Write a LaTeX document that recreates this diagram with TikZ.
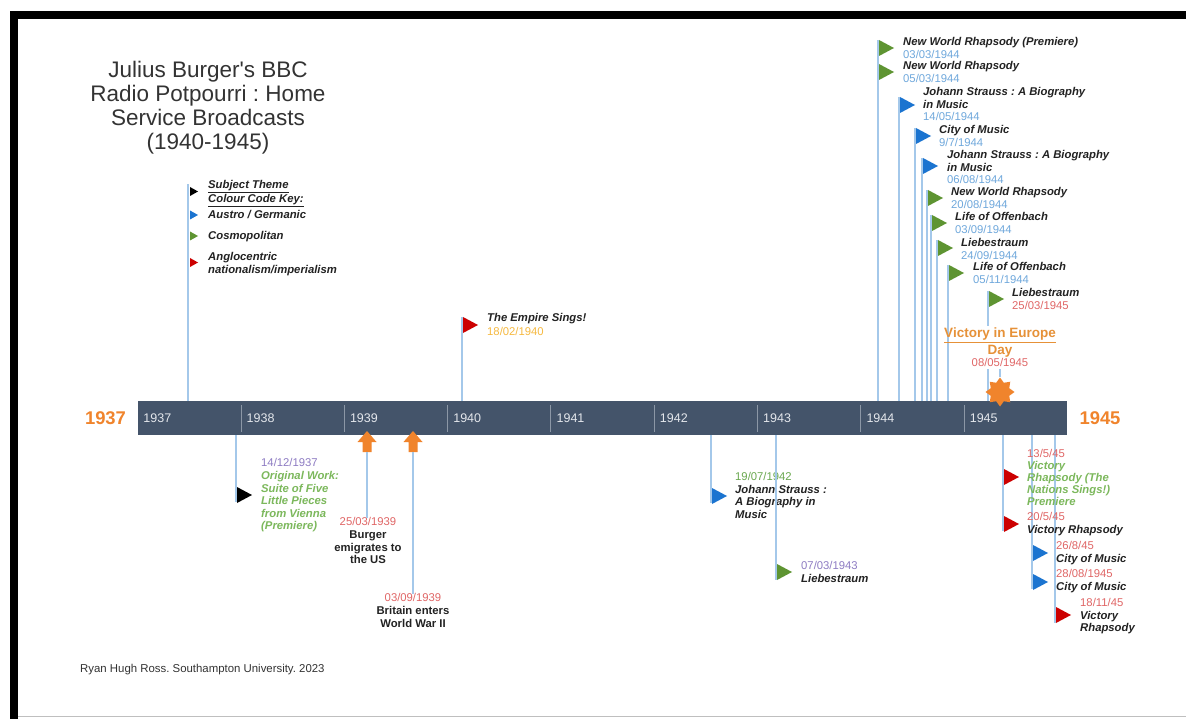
\documentclass[tikz,border=0pt]{standalone}
\usepackage{fontspec}
\setmainfont{Liberation Sans}
\usetikzlibrary{shapes.geometric}
\definecolor{lblue}{HTML}{A4C8EA}
\definecolor{barc}{HTML}{44546A}
\definecolor{divc}{HTML}{8C97A6}
\definecolor{yrc}{HTML}{E4E7EC}
\definecolor{fgreen}{HTML}{5E9432}
\definecolor{fblue}{HTML}{1B74D0}
\definecolor{fred}{HTML}{CC0000}
\definecolor{dblue}{HTML}{6FA8DC}
\definecolor{dred}{HTML}{E06666}
\definecolor{dpurple}{HTML}{8E7CC3}
\definecolor{tgreen}{HTML}{6AA84F}
\definecolor{lgreen}{HTML}{7CB85C}
\definecolor{gold}{HTML}{F6B940}
\definecolor{orng}{HTML}{F0842C}
\definecolor{vecol}{HTML}{E69138}
\definecolor{txt}{HTML}{222222}
\definecolor{titlec}{HTML}{333333}
\frenchspacing
\newcommand\bi[1]{\textbf{\textit{#1}}}
\newcommand\lf{\fontsize{11.3}{12.2}\selectfont}
\newcommand\sapos{\XeTeXglyph\XeTeXcharglyph"0027\relax}
\newcommand\flagtri[3]{\fill[#1] (#2,#3) -- ++(15,8) -- ++(-15,8) -- cycle;}
\newcommand\keytri[3]{\fill[#1] (#2,#3) -- ++(8,4.5) -- ++(-8,4.5) -- cycle;}
\newcommand\uparr[1]{\fill[orng] (#1,431) -- (#1+9.5,442) -- (#1+4.5,442) -- (#1+4.5,452) -- (#1-4.5,452) -- (#1-4.5,442) -- (#1-9.5,442) -- cycle;}
\begin{document}
\begin{tikzpicture}[x=1pt,y=-1pt,
  vline/.style={draw=lblue, line width=1.8pt},
  lbl/.style={anchor=north west, inner sep=0pt, align=left, font=\lf, text=txt},
  clbl/.style={anchor=north, inner sep=0pt, align=center, font=\lf, text=txt}]
\useasboundingbox (0,0) rectangle (1186,719);
\fill[white] (0,0) rectangle (1186,719);
\fill[black] (10,11) rectangle (1186,19);
\fill[black] (10,11) rectangle (18,719);
\draw[gray!50, line width=0.8pt] (18,716.5) -- (1186,716.5);

% title
\node[anchor=north, align=center, inner sep=0pt, font=\fontsize{22.5}{24}\selectfont, text=titlec] (title) at (208,61)
  {Julius Burger\sapos s BBC\\Radio Potpourri : Home\\Service Broadcasts\\(1940-1945)};

% bar
\node[fill=barc, inner sep=0pt, minimum width=929pt, minimum height=34pt, anchor=north west] (bar) at (137.7,401) {};
\foreach \i in {1,...,8} \draw[divc, line width=1pt] ({137.7+103.3*\i},405) -- ++(0,27);
\foreach \i in {0,...,8}{\pgfmathtruncatemacro\yr{1937+\i}
  \node[anchor=west, inner sep=0pt, font=\fontsize{12.5}{14}\selectfont, text=yrc] (yr\i) at ({137.7+103.3*\i+5.5},418.5) {\yr};}
\node[font=\fontsize{18.4}{20}\selectfont\bfseries, text=orng, inner sep=0pt] (y37) at (105.5,418) {1937};
\node[font=\fontsize{18.4}{20}\selectfont\bfseries, text=orng, inner sep=0pt] (y45) at (1100,418) {1945};

% key
\coordinate (k) at (188,184);
\draw[vline] (k |- bar.north) -- (k);
\keytri{black}{190}{187}
\keytri{fblue}{190}{210.5}
\keytri{fgreen}{190}{231.5}
\keytri{fred}{190}{258}
\node[lbl] (key1) at (208,180.5) {\bi{\underline{Subject Theme}}\\\bi{\underline{Colour Code Key:}}};
\node[lbl] (key2) at (208,210.5) {\bi{Austro / Germanic}};
\node[lbl] (key3) at (208,231.5) {\bi{Cosmopolitan}};
\node[lbl] (key4) at (208,252.5) {\bi{Anglocentric}\\\bi{nationalism/imperialism}};

% empire sings
\coordinate (e) at (462,317);
\draw[vline] (e |- bar.north) -- (e);
\flagtri{fred}{463}{317}
\node[lbl] (emp) at (487,313.5) {\bi{The Empire Sings!}\\[1.8pt]\textcolor{gold}{18/02/1940}};

% top cluster
\coordinate (u1) at (878,40);
\coordinate (u3) at (899,97);
\coordinate (u4) at (915,128);
\coordinate (u5) at (922,158);
\coordinate (u6) at (927,190);
\coordinate (u7) at (931,215);
\coordinate (u8) at (937,240);
\coordinate (u9) at (948,265);
\coordinate (u10) at (988,291);
\foreach \c in {u1,u3,u4,u5,u6,u7,u8,u9,u10} \draw[vline] (\c |- bar.north) -- (\c);
\flagtri{fgreen}{879}{40}
\flagtri{fgreen}{879}{64}
\flagtri{fblue}{900}{97}
\flagtri{fblue}{916}{128}
\flagtri{fblue}{923}{158}
\flagtri{fgreen}{928}{190}
\flagtri{fgreen}{932}{215}
\flagtri{fgreen}{938}{240}
\flagtri{fgreen}{949}{265}
\flagtri{fgreen}{989}{291}
\node[lbl] (t1) at (903,37.5) {\bi{New World Rhapsody (Premiere)}\\\textcolor{dblue}{03/03/1944}};
\node[lbl] (t2) at (903,61.5) {\bi{New World Rhapsody}\\\textcolor{dblue}{05/03/1944}};
\node[lbl] (t3) at (923,87.5) {\bi{Johann Strauss : A Biography}\\\bi{in Music}\\\textcolor{dblue}{14/05/1944}};
\node[lbl] (t4) at (939,125.5) {\bi{City of Music}\\\textcolor{dblue}{9/7/1944}};
\node[lbl] (t5) at (947,150.5) {\bi{Johann Strauss : A Biography}\\\bi{in Music}\\\textcolor{dblue}{06/08/1944}};
\node[lbl] (t6) at (951,187.5) {\bi{New World Rhapsody}\\\textcolor{dblue}{20/08/1944}};
\node[lbl] (t7) at (955,212.5) {\bi{Life of Offenbach}\\\textcolor{dblue}{03/09/1944}};
\node[lbl] (t8) at (961,238.5) {\bi{Liebestraum}\\\textcolor{dblue}{24/09/1944}};
\node[lbl] (t9) at (973,262.5) {\bi{Life of Offenbach}\\\textcolor{dblue}{05/11/1944}};
\node[lbl] (t10) at (1012,288.5) {\bi{Liebestraum}\\\textcolor{dred}{25/03/1945}};

% VE day
\node[anchor=north, align=center, fill=white, inner xsep=-5pt, inner ysep=2pt, font=\fontsize{13.5}{17}\selectfont\bfseries, text=vecol] (ve) at (1000,326)
  {\underline{Victory in Europe}\\\underline{Day}};
\node[clbl, fill=white, inner sep=2pt, text=dred] (ved) at (1000,356.5) {08/05/1945};
\node[star, star points=8, star point ratio=1.45, fill=orng, minimum size=29pt, inner sep=0pt] (star) at (1000,392) {};
\draw[vline] (ved.south) -- (star.north);

% 1937 bottom
\coordinate (d1) at (236,502);
\draw[vline] (d1 |- bar.south) -- (d1);
\flagtri{black}{237}{487}
\node[lbl, font=\fontsize{11.3}{12.6}\selectfont] (b1) at (261,458.5) {\textcolor{dpurple}{14/12/1937}\\\textcolor{lgreen}{\bi{Original Work:}}\\\textcolor{lgreen}{\bi{Suite of Five}}\\\textcolor{lgreen}{\bi{Little Pieces}}\\\textcolor{lgreen}{\bi{from Vienna}}\\\textcolor{lgreen}{\bi{(Premiere)}}};

% 1939 arrows
\uparr{367}
\uparr{413}
\coordinate (a1) at (367,452);
\coordinate (a2) at (413,452);
\node[clbl, font=\fontsize{11.3}{12.7}\selectfont] (b2) at (368,517.5) {\textcolor{dred}{25/03/1939}\\\textbf{Burger}\\\textbf{emigrates to}\\\textbf{the US}};
\node[clbl, font=\fontsize{11.3}{12.7}\selectfont] (b3) at (413,593.5) {\textcolor{dred}{03/09/1939}\\\textbf{Britain enters}\\\textbf{World War II}};
\draw[vline] (a1) -- (a1 |- b2.north);
\draw[vline] (a2) -- (a2 |- b3.north);

% 1942 / 1943
\coordinate (d4) at (711,503);
\draw[vline] (d4 |- bar.south) -- (d4);
\flagtri{fblue}{712}{488}
\node[lbl, font=\fontsize{11.3}{12.4}\selectfont] (b4) at (735,472.5) {\textcolor{tgreen}{19/07/1942}\\\bi{Johann Strauss :}\\\bi{A Biography in}\\\bi{Music}};
\coordinate (d5) at (776,580);
\draw[vline] (d5 |- bar.south) -- (d5);
\flagtri{fgreen}{777}{564}
\node[lbl] (b5) at (801,561.5) {\textcolor{dpurple}{07/03/1943}\\\bi{Liebestraum}};

% 1945 bottom
\coordinate (d6) at (1003,531);
\coordinate (d7) at (1032,589);
\coordinate (d8) at (1055,623);
\foreach \c in {d6,d7,d8} \draw[vline] (\c |- bar.south) -- (\c);
\flagtri{fred}{1004}{469}
\flagtri{fred}{1004}{516}
\flagtri{fblue}{1033}{545}
\flagtri{fblue}{1033}{574}
\flagtri{fred}{1056}{607}
\node[lbl, font=\fontsize{11.3}{11.8}\selectfont] (b6) at (1027,449.5) {\textcolor{dred}{13/5/45}\\\textcolor{lgreen}{\bi{Victory}}\\\textcolor{lgreen}{\bi{Rhapsody (The}}\\\textcolor{lgreen}{\bi{Nations Sings!)}}\\\textcolor{lgreen}{\bi{Premiere}}};
\node[lbl] (b7) at (1027,512.5) {\textcolor{dred}{20/5/45}\\\bi{Victory Rhapsody}};
\node[lbl] (b8) at (1056,541.5) {\textcolor{dred}{26/8/45}\\\bi{City of Music}};
\node[lbl] (b9) at (1056,569.5) {\textcolor{dred}{28/08/1945}\\\bi{City of Music}};
\node[lbl] (b10) at (1080,598.5) {\textcolor{dred}{18/11/45}\\\bi{Victory}\\\bi{Rhapsody}};

% credit
\node[anchor=west, inner sep=0pt, font=\fontsize{11.4}{13}\selectfont, text=titlec] (credit) at (80,670) {Ryan Hugh Ross. Southampton University. 2023};
\end{tikzpicture}
\end{document}
